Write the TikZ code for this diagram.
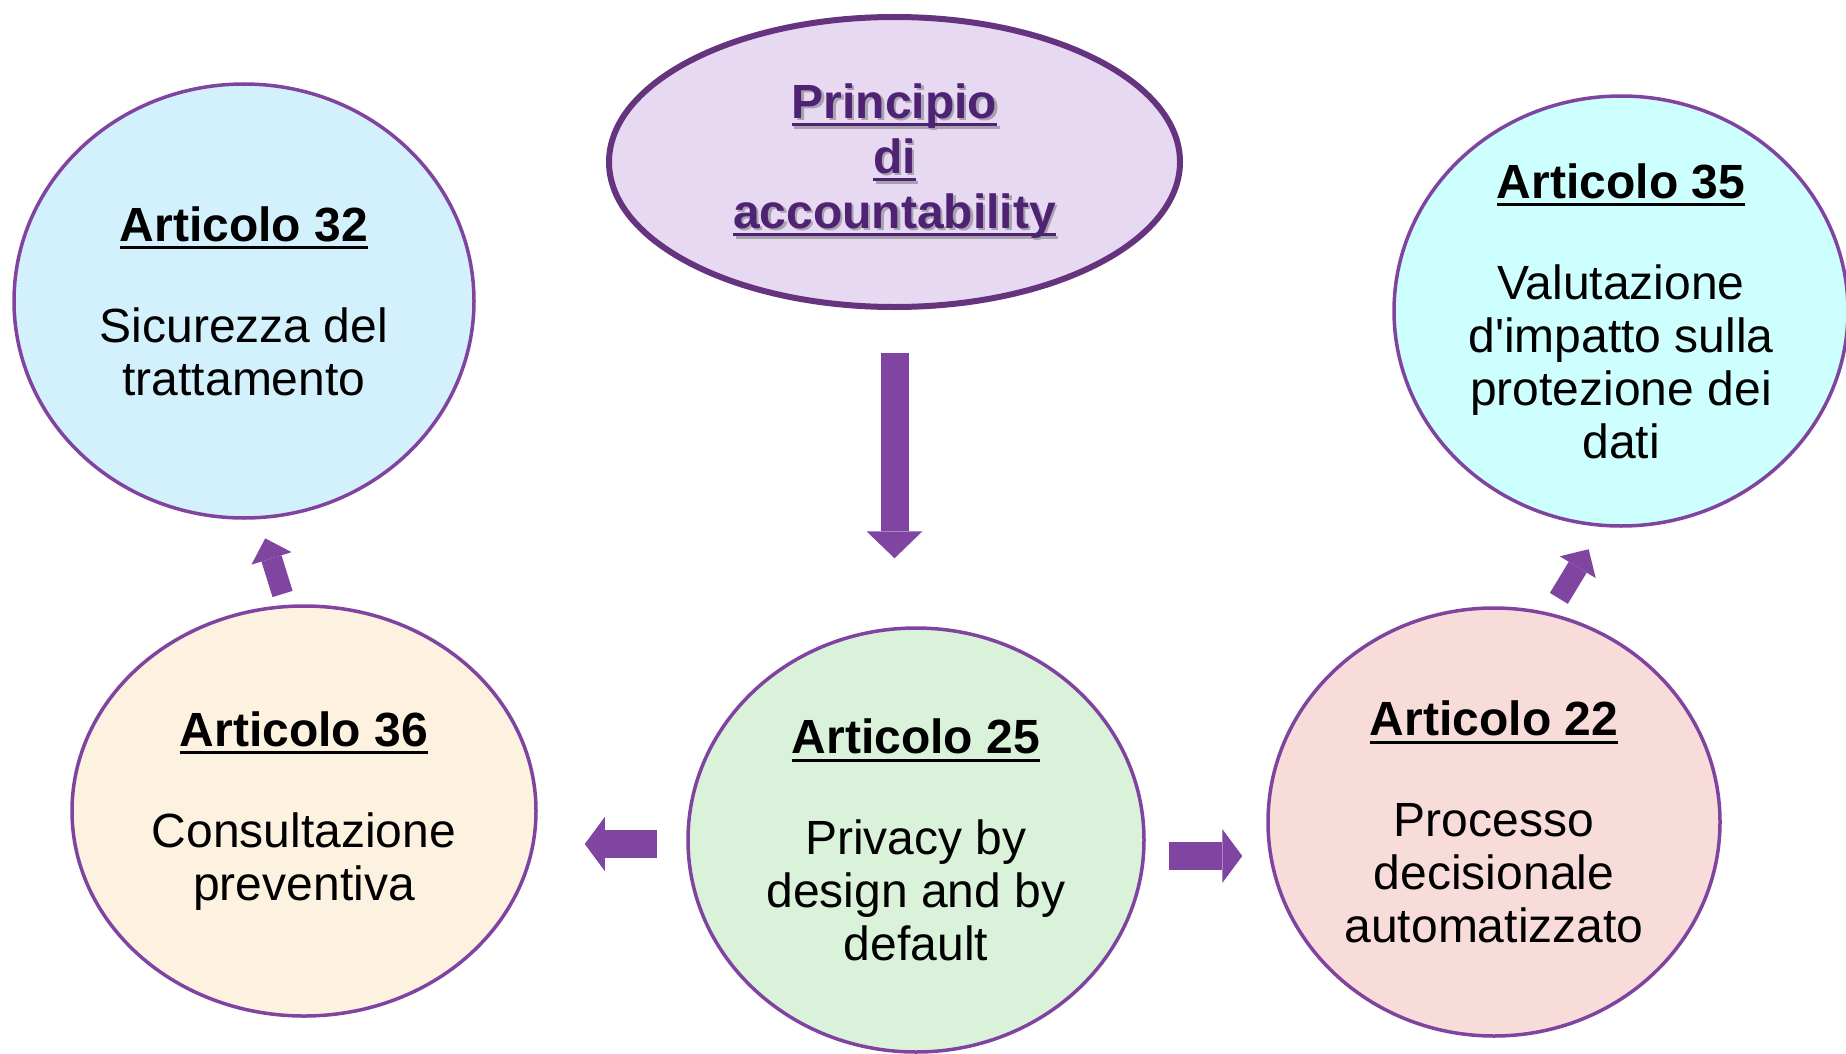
\documentclass[tikz,border=0pt]{standalone}
\usepackage{fontspec}
\setmainfont{Liberation Sans}
\usetikzlibrary{shapes.geometric,arrows.meta}

\definecolor{accfill}{HTML}{E8D9F2}
\definecolor{accline}{HTML}{66337F}
\definecolor{acctext}{HTML}{4F2373}
\definecolor{shadowgray}{HTML}{A8A2AE}
\definecolor{ringline}{HTML}{8044A0}
\definecolor{arrowfill}{HTML}{8045A0}
\definecolor{fillsec}{HTML}{D3F1FC}
\definecolor{fillval}{HTML}{CCFFFE}
\definecolor{fillcons}{HTML}{FDF1DF}
\definecolor{fillpriv}{HTML}{DAF2DA}
\definecolor{fillproc}{HTML}{F8DCDA}

% underlined line of text
\newcommand\ultext[1]{\setbox0\hbox{#1}\makebox[0pt][l]{\rule[-4pt]{\wd0}{1.5pt}}\box0}
% text with a soft drop shadow
\newcommand\shadowed[1]{\makebox[0pt][l]{\hspace{1.2pt}\raisebox{-1.2pt}{\color{shadowgray}#1}}#1}

\begin{document}
\begin{tikzpicture}[x=0.5pt, y=-0.5pt,
    main node/.style={ellipse, draw=ringline, line width=1.75pt, inner sep=0pt,
                      align=center, font=\fontsize{24}{26.5}\selectfont},
    acc node/.style={ellipse, draw=accline, fill=accfill, line width=3pt, inner sep=0pt,
                     minimum width=285.5pt, minimum height=145pt, align=center,
                     text=acctext, font=\fontsize{24}{27.5}\selectfont\bfseries},
    big arrow/.style={draw=arrowfill, line width=14pt,
                      -{Triangle[width=28pt, length=13.5pt, line width=0pt]}},
    side arrow/.style={draw=arrowfill, line width=14pt,
                       -{Triangle[width=27pt, length=10pt, line width=0pt]}},
    thin arrow/.style={draw=arrowfill, line width=10.5pt,
                       -{Triangle[width=21pt, length=10.5pt, line width=0pt]}}]

  \useasboundingbox[fill=white] (0,0) rectangle (1846,1054);

  \node[acc node] (acc) at (894.5,162)
    {\shadowed{\ultext{Principio}}\\ \shadowed{\ultext{di}}\\ \shadowed{\ultext{accountability}}};

  \node[main node, fill=fillsec, minimum width=230pt, minimum height=217pt] (a32) at (244,301)
    {\textbf{\ultext{Articolo 32}}\\[24pt] Sicurezza del\\ trattamento};
  \node[main node, fill=fillval, minimum width=227pt, minimum height=215pt] (a35) at (1621,311)
    {\textbf{\ultext{Articolo 35}}\\[24pt] Valutazione\\ d\textquotesingle impatto sulla\\ protezione dei\\ dati};
  \node[main node, fill=fillcons, minimum width=232pt, minimum height=205pt] (a36) at (304,811)
    {\textbf{\ultext{Articolo 36}}\\[24pt] Consultazione\\ preventiva};
  \node[main node, fill=fillpriv, minimum width=228pt, minimum height=212pt] (a25) at (916,840)
    {\textbf{\ultext{Articolo 25}}\\[24pt] Privacy by\\ design and by\\ default};
  \node[main node, fill=fillproc, minimum width=226pt, minimum height=214pt] (a22) at (1494,822)
    {\textbf{\ultext{Articolo 22}}\\[24pt] Processo\\ decisionale\\ automatizzato};

  \coordinate (lft) at ([yshift=-2pt]a25.west);
  \coordinate (rgt) at ([yshift=-8pt]a25.east);

  \draw[big arrow, shorten <=21.5pt, shorten >=34pt] (acc.south) -- (acc.south |- a25.north);
  \draw[side arrow, shorten <=14.5pt, shorten >=23.5pt] (lft) -- (lft -| a36.east);
  \draw[side arrow, shorten <=11.5pt, shorten >=12pt] (rgt) -- (rgt -| a22.west);
  \draw[thin arrow, shorten <=5.7pt, shorten >=10pt] (a36.95) -- (a32.274);
  \draw[thin arrow, shorten <=8.5pt, shorten >=13pt] (a22.75) -- (a35.265);

\end{tikzpicture}
\end{document}
